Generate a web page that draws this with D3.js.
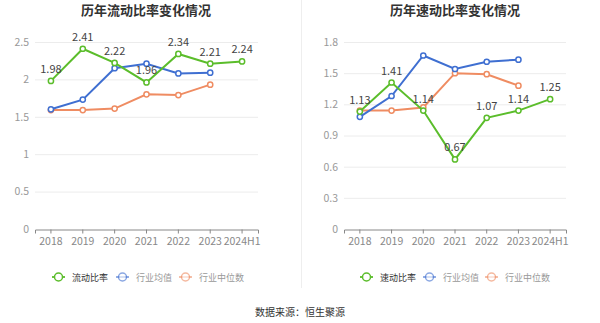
<!DOCTYPE html>
<html><head><meta charset="utf-8">
<script src="https://cdn.jsdelivr.net/npm/d3@7/dist/d3.min.js"></script>
<style>body{margin:0;background:#fff;font-family:"Noto Sans CJK SC","Noto Sans",sans-serif;}</style>
</head><body><svg id="c" width="600" height="323"></svg>
<script>
const categories = ["2018","2019","2020","2021","2022","2023","2024H1"];
const currentRatio = [1.98,2.41,2.22,1.96,2.34,2.21,2.24];
const currentAvg = [1.60,1.73,2.15,2.21,2.08,2.09,null];
const currentMedian = [1.59,1.59,1.61,1.80,1.79,1.93,null];
const quickRatio = [1.13,1.41,1.14,0.67,1.07,1.14,1.25];
const quickAvg = [1.08,1.28,1.67,1.54,1.61,1.63,null];
const quickMedian = [1.14,1.14,1.17,1.50,1.49,1.38,null];
const leftTicks = [0,0.5,1,1.5,2,2.5];
const rightTicks = [0,0.3,0.6,0.9,1.2,1.5,1.8];

const colors = {main:"#5bbd2b", avg:"#3f6fd1", med:"#ef8c62"};
const svg = d3.select("#c");
const font = '"Noto Sans CJK SC","Noto Sans",sans-serif';

// separator
svg.append("line").attr("x1",301.5).attr("x2",301.5).attr("y1",0).attr("y2",288)
  .attr("stroke","#eeeeee").attr("stroke-width",1);

function chart(cfg){
  const g = svg.append("g");
  const x = d3.scaleBand().domain(categories).range([cfg.x0,cfg.x1]);
  const y = d3.scaleLinear().domain([0,cfg.max]).range([229,42]);
  // title
  g.append("text").attr("x",cfg.tx).attr("y",15).attr("text-anchor","middle")
    .attr("font-family",font).attr("font-size",13).attr("font-weight","bold").attr("fill","#333")
    .text(cfg.title);
  // grid
  g.selectAll(".grid").data(cfg.ticks.filter(t=>t>0)).enter().append("line")
    .attr("x1",cfg.x0).attr("x2",cfg.x1).attr("y1",d=>y(d)+0.5).attr("y2",d=>y(d)+0.5)
    .attr("stroke","#ececec").attr("stroke-width",1);
  // y axis labels
  const ya = g.append("g").attr("transform",`translate(${cfg.x0},0)`)
    .call(d3.axisLeft(y).tickValues(cfg.ticks).tickSize(0).tickPadding(6).tickFormat(d=>String(d)));
  ya.select(".domain").remove();
  ya.selectAll("text").attr("font-family",font).attr("font-size",10.5).attr("fill","#999");
  // x axis
  const xa = g.append("g").attr("transform",`translate(0,${y(0)+0.5})`)
    .call(d3.axisBottom(x).tickSize(4).tickPadding(4));
  xa.select(".domain").attr("stroke","#888");
  xa.selectAll(".tick line").attr("stroke","#888");
  xa.selectAll("text").attr("font-family",font).attr("font-size",10.5).attr("fill","#888");
  const cx = d => x(d)+x.bandwidth()/2;
  const series = [
    {vals:cfg.med,c:colors.med},
    {vals:cfg.avg,c:colors.avg},
    {vals:cfg.main,c:colors.main}
  ];
  series.forEach(s=>{
    const pts = categories.map((c,i)=>[c,s.vals[i]]).filter(p=>p[1]!=null);
    g.append("path").datum(pts)
      .attr("d",d3.line().x(p=>cx(p[0])).y(p=>y(p[1])))
      .attr("fill","none").attr("stroke",s.c).attr("stroke-width",2);
    g.selectAll(null).data(pts).enter().append("circle")
      .attr("cx",p=>cx(p[0])).attr("cy",p=>y(p[1])).attr("r",2.6)
      .attr("fill","#fff").attr("stroke",s.c).attr("stroke-width",1.5);
  });
  // labels
  g.selectAll(null).data(categories.map((c,i)=>[c,cfg.main[i]])).enter().append("text")
    .attr("x",p=>cx(p[0])).attr("y",p=>y(p[1])-8).attr("text-anchor","middle")
    .attr("font-family",font).attr("font-size",11).attr("fill","#444")
    .text(p=>p[1].toFixed(2));
  // legend
  const items = [[cfg.mainName,colors.main,"#333"],["行业均值",colors.avg,"#999"],["行业中位数",colors.med,"#999"]];
  items.forEach((it,i)=>{
    const lx = cfg.lx[i];
    const lg = g.append("g");
    lg.append("line").attr("x1",lx).attr("x2",lx+13).attr("y1",277).attr("y2",277)
      .attr("stroke",it[1]).attr("stroke-width",1.8).attr("opacity", i==0?1:0.6);
    lg.append("circle").attr("cx",lx+6.5).attr("cy",277).attr("r",4)
      .attr("fill","#fff").attr("stroke",it[1]).attr("stroke-width",1.5).attr("opacity", i==0?1:0.6);
    lg.append("text").attr("x",lx+20).attr("y",280.5).attr("font-family",font)
      .attr("font-size",9).attr("fill",it[2]).text(it[0]);
  });
}

chart({x0:35,x1:258,max:2.5,ticks:leftTicks,title:"历年流动比率变化情况",tx:146,
  main:currentRatio,avg:currentAvg,med:currentMedian,mainName:"流动比率",lx:[52,116,179]});
chart({x0:344,x1:566,max:1.8,ticks:rightTicks,title:"历年速动比率变化情况",tx:455,
  main:quickRatio,avg:quickAvg,med:quickMedian,mainName:"速动比率",lx:[360,423,485]});

svg.append("text").attr("x",300).attr("y",316).attr("text-anchor","middle")
  .attr("font-family",font).attr("font-size",10).attr("fill","#333").text("数据来源：恒生聚源");
</script></body></html>
